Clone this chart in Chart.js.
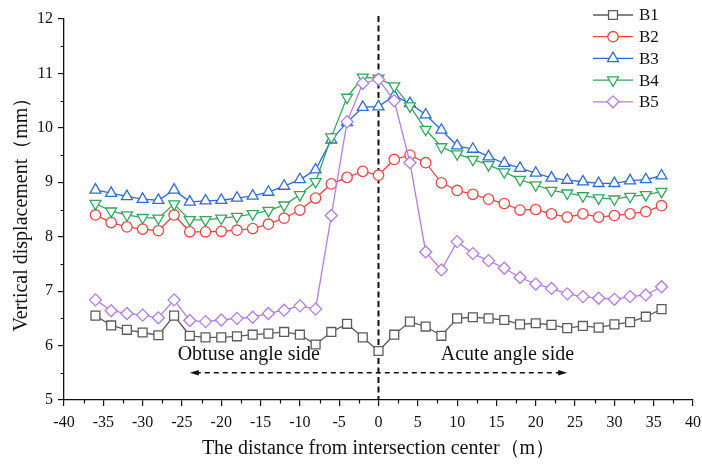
<!DOCTYPE html>
<html>
<head>
<meta charset="utf-8">
<script src="https://cdn.jsdelivr.net/npm/chart.js@4.4.1/dist/chart.umd.min.js"></script>
<style>
html,body{margin:0;padding:0;background:#fff;}
#wrap{width:702px;height:464px;position:relative;}
</style>
</head>
<body>
<div id="wrap"><canvas id="c" width="702" height="464"></canvas></div>
<script>
// ---- data ----
const distances = [-36,-34,-32,-30,-28,-26,-24,-22,-20,-18,-16,-14,-12,-10,-8,-6,-4,-2,0,2,4,6,8,10,12,14,16,18,20,22,24,26,28,30,32,34,36];
const B1 = [6.55,6.37,6.29,6.24,6.19,6.55,6.18,6.15,6.15,6.17,6.20,6.22,6.25,6.20,6.02,6.25,6.40,6.15,5.90,6.20,6.44,6.35,6.18,6.50,6.52,6.50,6.47,6.39,6.41,6.38,6.32,6.36,6.33,6.39,6.43,6.53,6.67];
const B2 = [8.40,8.26,8.18,8.14,8.11,8.40,8.09,8.09,8.10,8.12,8.15,8.23,8.34,8.49,8.71,8.97,9.09,9.20,9.13,9.42,9.50,9.36,8.99,8.85,8.78,8.69,8.61,8.49,8.50,8.42,8.36,8.42,8.36,8.39,8.42,8.46,8.57];
const B3 = [8.86,8.80,8.74,8.69,8.67,8.86,8.64,8.66,8.67,8.71,8.75,8.82,8.93,9.05,9.23,9.78,10.10,10.38,10.39,10.59,10.45,10.24,9.96,9.67,9.61,9.47,9.35,9.26,9.17,9.08,9.04,9.01,8.98,8.98,9.03,9.05,9.12];
const B4 = [8.61,8.47,8.40,8.35,8.34,8.60,8.31,8.31,8.34,8.37,8.42,8.48,8.58,8.77,9.01,9.83,10.56,10.93,10.91,10.77,10.40,9.97,9.65,9.52,9.42,9.32,9.19,9.05,8.95,8.85,8.80,8.75,8.71,8.69,8.74,8.77,8.83];
const B5 = [6.84,6.64,6.59,6.56,6.51,6.84,6.46,6.44,6.47,6.50,6.52,6.59,6.65,6.73,6.67,8.39,10.11,10.82,10.89,10.50,9.36,7.72,7.39,7.91,7.69,7.56,7.42,7.25,7.13,7.05,6.95,6.90,6.87,6.85,6.90,6.93,7.08];
const seriesNames = ['B1','B2','B3','B4','B5'];
const xTickRange = [-40, 40, 5];
const yTickRange = [5, 12, 1];
const sideLabels = ['Obtuse angle side', 'Acute angle side'];
const xTitle = 'The distance from intersection center（m）';
const yTitle = 'Vertical displacement（mm）';

const FONT = "'Liberation Serif','Times New Roman',serif";
const colors = ['#5b5b5b','#f04545','#2e6bd8','#36a55c','#b07ce6'];
const styles = ['rect','circle','triangle','triangle','rectRot'];
const rotations = [0,0,0,180,0];
const radii = [6.3,5.2,6.3,6.3,6.0];
const allSeries = [B1,B2,B3,B4,B5];

const datasets = allSeries.map((arr,i)=>({
  label: seriesNames[i],
  data: distances.map((d,j)=>({x:d, y:arr[j]})),
  borderColor: colors[i],
  backgroundColor: '#ffffff',
  pointBackgroundColor: '#ffffff',
  pointBorderColor: colors[i],
  pointStyle: styles[i],
  pointRotation: rotations[i],
  pointRadius: radii[i],
  pointBorderWidth: 1.3,
  borderWidth: 1.3,
  tension: 0,
  order: 5 - i
}));

const annotPlugin = {
  id: 'annot',
  beforeDatasetsDraw(chart){
    const {ctx, chartArea, scales:{x,y}} = chart;
    ctx.save();
    const x0 = x.getPixelForValue(0);
    ctx.strokeStyle = '#111';
    ctx.lineWidth = 2;
    ctx.setLineDash([6,3.5]);
    ctx.beginPath();
    ctx.moveTo(x0, chartArea.top - 3);
    ctx.lineTo(x0, chartArea.bottom);
    ctx.stroke();
    const ya = y.getPixelForValue(5.5);
    const xl = x.getPixelForValue(-24), xr = x.getPixelForValue(24);
    ctx.lineWidth = 1.6;
    ctx.setLineDash([5,4]);
    ctx.beginPath();
    ctx.moveTo(xl+6, ya);
    ctx.lineTo(xr-6, ya);
    ctx.stroke();
    ctx.setLineDash([]);
    ctx.fillStyle = '#111';
    ctx.beginPath();
    ctx.moveTo(xl, ya); ctx.lineTo(xl+9, ya-2.8); ctx.lineTo(xl+9, ya+2.8); ctx.closePath(); ctx.fill();
    ctx.beginPath();
    ctx.moveTo(xr, ya); ctx.lineTo(xr-9, ya-2.8); ctx.lineTo(xr-9, ya+2.8); ctx.closePath(); ctx.fill();
    ctx.font = '20px ' + FONT;
    ctx.textAlign = 'center';
    ctx.textBaseline = 'middle';
    ctx.fillStyle = '#111';
    const yt = y.getPixelForValue(5.83);
    ctx.fillText(sideLabels[0], x.getPixelForValue(-16.5), yt);
    ctx.fillText(sideLabels[1], x.getPixelForValue(16.4), yt);
    ctx.restore();
  },
  afterDraw(chart){
    const {ctx, chartArea, scales:{x,y}} = chart;
    ctx.save();
    ctx.strokeStyle = '#111';
    ctx.lineWidth = 1.2;
    ctx.beginPath();
    for (let v = xTickRange[0] + xTickRange[2]/2; v < xTickRange[1]; v += xTickRange[2]) {
      const px = Math.round(x.getPixelForValue(v)) + 0.5;
      ctx.moveTo(px, chartArea.bottom);
      ctx.lineTo(px, chartArea.bottom + 3.5);
    }
    for (let v = yTickRange[0] + yTickRange[2]/2; v < yTickRange[1]; v += yTickRange[2]) {
      const py = Math.round(y.getPixelForValue(v)) + 0.5;
      ctx.moveTo(chartArea.left, py);
      ctx.lineTo(chartArea.left - 3.5, py);
    }
    ctx.stroke();
    const lx0 = 593, lx1 = 633, ly0 = 15, dy = 21.7;
    chart.data.datasets.forEach((ds, i) => {
      const ly = ly0 + i*dy;
      ctx.strokeStyle = ds.borderColor;
      ctx.lineWidth = 1.3;
      ctx.beginPath();
      ctx.moveTo(lx0, ly); ctx.lineTo(lx1, ly);
      ctx.stroke();
      ctx.fillStyle = '#ffffff';
      ctx.lineWidth = 1.3;
      Chart.helpers.drawPoint(ctx, {
        pointStyle: ds.pointStyle, rotation: ds.pointRotation, radius: ds.pointRadius, borderWidth: 1.3
      }, (lx0+lx1)/2, ly);
      ctx.fillStyle = '#111';
      ctx.font = '17px ' + FONT;
      ctx.textAlign = 'left';
      ctx.textBaseline = 'middle';
      ctx.fillText(ds.label, 639, ly + 1);
    });
    ctx.restore();
  }
};

new Chart(document.getElementById('c'), {
  type: 'line',
  data: { datasets },
  options: {
    responsive: false,
    animation: false,
    events: [],
    layout: { padding: { top: 19, right: 9, bottom: 0, left: 0 } },
    plugins: { legend: { display: false }, tooltip: { enabled: false } },
    scales: {
      x: {
        type: 'linear',
        min: xTickRange[0], max: xTickRange[1],
        afterFit(s){ s.height = 64; s.paddingRight = 0; s.paddingLeft = 0; },
        ticks: { stepSize: xTickRange[2], color: '#111', font: { family: FONT, size: 16 }, padding: 7, maxRotation: 0, autoSkip: false },
        grid: { drawOnChartArea: false, drawTicks: true, tickLength: 6, color: '#111', lineWidth: 1.2 },
        border: { display: true, color: '#111', width: 1.3 },
        title: { display: true, text: xTitle, color: '#111', font: { family: FONT, size: 20 }, padding: { top: 0, bottom: 3 } }
      },
      y: {
        type: 'linear',
        min: yTickRange[0], max: yTickRange[1],
        afterFit(s){ s.width = 64; },
        ticks: { stepSize: yTickRange[2], color: '#111', font: { family: FONT, size: 16 }, padding: 5 },
        grid: { drawOnChartArea: false, drawTicks: true, tickLength: 6, color: '#111', lineWidth: 1.2 },
        border: { display: true, color: '#111', width: 1.3 },
        title: { display: true, text: yTitle, color: '#111', font: { family: FONT, size: 20 }, padding: { top: 10, bottom: 0 } }
      }
    }
  },
  plugins: [annotPlugin]
});
</script>
</body>
</html>
